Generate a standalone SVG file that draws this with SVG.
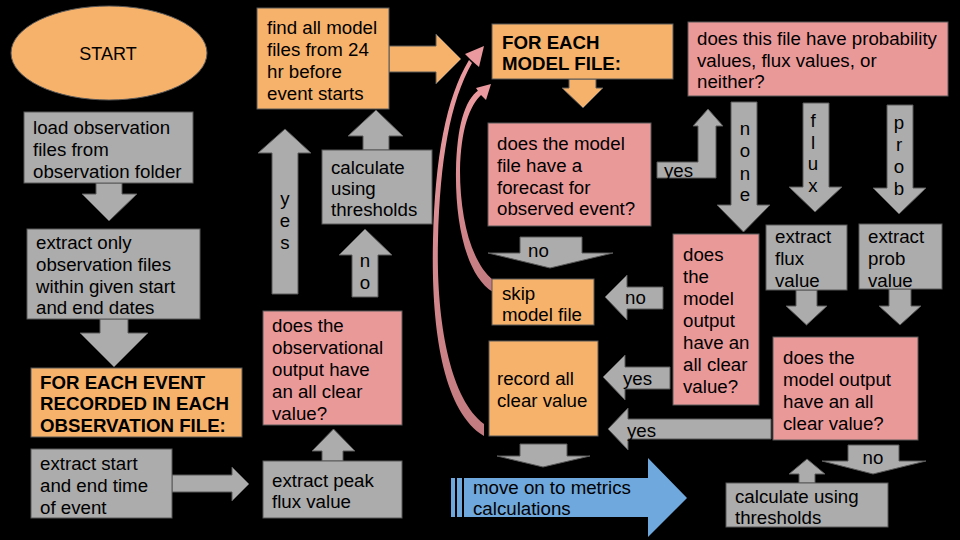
<svg xmlns="http://www.w3.org/2000/svg" width="960" height="540" viewBox="0 0 960 540">
<style>
.s{stroke:#595959;stroke-width:1}
.o{fill:#f6b26b}
.p{fill:#ea9999}
.g{fill:#acacac}
.b{fill:#6fa8dc}
text{font-family:"Liberation Sans",Arial,sans-serif;font-size:18.7px;fill:#000}
.bd{font-weight:bold}
.m{text-anchor:middle}
</style>
<defs>
<linearGradient id="cg" x1="0" y1="0" x2="0" y2="1">
<stop offset="0" stop-color="#ec9ba0"/>
<stop offset="1" stop-color="#c27b80"/>
</linearGradient>
</defs>
<rect width="960" height="540" fill="#000"/>

<g id="connectors">
<polygon class="s g" points="96,183 122,183 122,194 137,194 109,221 82,194 96,194"/>
<polygon class="s g" points="100,319 128,319 128,333 148,333 114,367 80,333 100,333"/>
<polygon class="s g" points="172,475 232,475 232,467 249,484 232,501 232,492 172,492"/>
<polygon class="s g" points="322,461 322,451 312,451 333.5,429 355,451 343,451 343,461"/>
<polygon class="s g" points="272,294 272,153 258,153 285,129 311,153 298,153 298,294"/>
<text class="m" x="285" y="204.5">y</text><text class="m" x="285" y="226.5">e</text><text class="m" x="285" y="248.5">s</text>
<polygon class="s g" points="352,297 352,255 339,255 365,229 392,255 378,255 378,297"/>
<text class="m" x="365" y="266.5">n</text><text class="m" x="365" y="288.5">o</text>
<polygon class="s g" points="363,150 363,136 348,136 376,110 403,136 389,136 389,150"/>
<polygon class="s o" points="389,46 436,46 436,34 461,59 436,84 436,72 389,72"/>
<polygon class="s o" points="569,79 596,79 596,88 603,88 583,108 562,88 569,88"/>
<polygon class="s g" points="657,162 698,162 698,126 693,126 708,109 723,126 716,126 716,178 657,178"/>
<text x="664" y="176.5">yes</text>
<polygon class="s g" points="731,102 757,102 757,205 770,205 743.5,232 717,205 731,205"/>
<text class="m" x="745" y="134.5">n</text><text class="m" x="745" y="156.5">o</text><text class="m" x="745" y="179.5">n</text><text class="m" x="745" y="200.5">e</text>
<polygon class="s g" points="803,103 829,103 829,187 842,187 815,212 789,187 803,187"/>
<text class="m" x="813" y="126.5">f</text><text class="m" x="813" y="148.5">l</text><text class="m" x="813" y="169.5">u</text><text class="m" x="813" y="191.5">x</text>
<polygon class="s g" points="887,105 913,105 913,188 926,188 899,214 873,188 887,188"/>
<text class="m" x="899" y="128.5">p</text><text class="m" x="899" y="150.5">r</text><text class="m" x="899" y="172.5">o</text><text class="m" x="899" y="194.5">b</text>
<polygon class="s g" points="796,290 817,290 817,306 827,306 806.5,325 786,306 796,306"/>
<polygon class="s g" points="889,289 911,289 911,306 921,306 900,325 879,306 889,306"/>
<polygon class="s g" points="520,237 582,237 582,253 613,253 550,268 488,253 520,253"/>
<text x="528" y="256.5">no</text>
<polygon class="s g" points="663,287 627,287 627,275 605,297 627,320 627,309 663,309"/>
<text x="625" y="303.5">no</text>
<polygon class="s g" points="670,367 625,367 625,355 603,377 625,400 625,389 670,389"/>
<text x="623" y="385">yes</text>
<polygon class="s g" points="771,419 628,419 628,408 608,429 628,450 628,439 771,439"/>
<text x="627" y="437">yes</text>
<polygon class="s g" points="848,445 899,445 899,461 926,461 873,474 822,461 848,461"/>
<text class="m" x="873" y="463.5">no</text>
<polygon class="s g" points="799,483 799,474 789,474 807,459 825,474 815,474 815,483"/>
<polygon class="s g" points="520,444 567,444 567,456 590,456 543,467 497,456 520,456"/>
<path fill="url(#cg)" d="M484,436 C441,410 431,322 433,240 C435,158 446,98 469,60 L472,63 C450,102 440,160 438,240 C436,318 449,398 484,424 Z"/>
<polygon fill="#ea9a9e" points="484,46 465,54 471,60 479,67"/>
<path fill="url(#cg)" d="M493,292 C466,276 455,222 456,170 C457,128 464,100 479,90 L482,94 C469,106 461,130 460,170 C460,218 471,262 493,280 Z"/>
<polygon fill="#ea9a9e" points="491,84 476,88 480,94 486,100"/>
</g>

<g id="start">
<ellipse class="s o" cx="109" cy="53" rx="98" ry="47"/>
<text class="m" x="108" y="59.5" style="font-size:18px">START</text>
</g>
<g id="load">
<rect class="s g" x="24" y="112" width="169" height="71"/>
<text x="33" y="133.5">load observation</text><text x="33" y="155.5">files from</text><text x="33" y="177.5">observation folder</text>
</g>
<g id="extract-only">
<rect class="s g" x="27" y="229" width="173" height="90"/>
<text x="36" y="248.5">extract only</text><text x="36" y="270.5">observation files</text><text x="36" y="292.5">within given start</text><text x="36" y="313.5">and end dates</text>
</g>
<g id="for-each-event">
<rect class="s o" x="31" y="368" width="211" height="69"/>
<text class="bd" x="40" y="388.5">FOR EACH EVENT</text><text class="bd" x="40" y="410">RECORDED IN EACH</text><text class="bd" x="40" y="431.5">OBSERVATION FILE:</text>
</g>
<g id="extract-start">
<rect class="s g" x="31" y="449" width="141" height="69"/>
<text x="40" y="469.5">extract start</text><text x="40" y="491.5">and end time</text><text x="40" y="513.5">of event</text>
</g>
<g id="extract-peak">
<rect class="s g" x="263" y="461" width="139" height="57"/>
<text x="272" y="486.5">extract peak</text><text x="272" y="507.5">flux value</text>
</g>
<g id="obs-all-clear">
<rect class="s p" x="263" y="311" width="139" height="114"/>
<text x="272" y="331.5">does the</text><text x="272" y="353.5">observational</text><text x="272" y="375.5">output have</text><text x="272" y="397.5">an all clear</text><text x="272" y="419.5">value?</text>
</g>
<g id="calc-thresholds-1">
<rect class="s g" x="322" y="150" width="110" height="74"/>
<text x="331" y="173.5">calculate</text><text x="331" y="194.5">using</text><text x="331" y="215.5">thresholds</text>
</g>
<g id="find-model-files">
<rect class="s o" x="257" y="8" width="132" height="101"/>
<text x="267" y="33.5">find all model</text><text x="267" y="55.5">files from 24</text><text x="267" y="77.5">hr before</text><text x="267" y="99.5">event starts</text>
</g>
<g id="for-each-model">
<rect class="s o" x="492" y="24" width="181" height="55"/>
<text class="bd" x="502" y="48.5">FOR EACH</text><text class="bd" x="502" y="69.5">MODEL FILE:</text>
</g>
<g id="forecast">
<rect class="s p" x="488" y="123" width="163" height="103"/>
<text x="497" y="149.5">does the model</text><text x="497" y="171.5">file have a</text><text x="497" y="193.5">forecast for</text><text x="497" y="214.5">observed event?</text>
</g>
<g id="file-type">
<rect class="s p" x="688" y="22" width="260" height="74"/>
<text x="697" y="44.5">does this file have probability</text><text x="697" y="66.5">values, flux values, or</text><text x="697" y="87.5">neither?</text>
</g>
<g id="skip">
<rect class="s o" x="492" y="279" width="102" height="46"/>
<text x="502" y="299.5">skip</text><text x="502" y="320.5">model file</text>
</g>
<g id="record">
<rect class="s o" x="489" y="341" width="109" height="95"/>
<text x="497" y="384.5">record all</text><text x="497" y="406.5">clear value</text>
</g>
<g id="model-all-clear-none">
<rect class="s p" x="673" y="234" width="86" height="171"/>
<text x="683" y="260.5">does</text><text x="683" y="282.5">the</text><text x="683" y="304.5">model</text><text x="683" y="326.5">output</text><text x="683" y="348.5">have an</text><text x="683" y="370.5">all clear</text><text x="683" y="392.5">value?</text>
</g>
<g id="extract-flux">
<rect class="s g" x="766" y="225" width="81" height="65"/>
<text x="775" y="242.5">extract</text><text x="775" y="264.5">flux</text><text x="775" y="286.5">value</text>
</g>
<g id="extract-prob">
<rect class="s g" x="859" y="224" width="83" height="65"/>
<text x="868" y="242.5">extract</text><text x="868" y="264.5">prob</text><text x="868" y="286.5">value</text>
</g>
<g id="model-all-clear">
<rect class="s p" x="773" y="337" width="145" height="103"/>
<text x="783" y="363.5">does the</text><text x="783" y="385.5">model output</text><text x="783" y="407.5">have an all</text><text x="783" y="429.5">clear value?</text>
</g>
<g id="calc-thresholds-2">
<rect class="s g" x="726" y="483" width="162" height="44"/>
<text x="735" y="502.5">calculate using</text><text x="735" y="523.5">thresholds</text>
</g>
<g id="metrics">
<rect class="b" x="451" y="478" width="4" height="39"/>
<rect class="b" x="457" y="478" width="5" height="39"/>
<polygon class="b" points="464,478 648,478 648,458 687,498 648,537 648,517 464,517"/>
<text x="473" y="493.5">move on to metrics</text><text x="473" y="514.5">calculations</text>
</g>
</svg>
